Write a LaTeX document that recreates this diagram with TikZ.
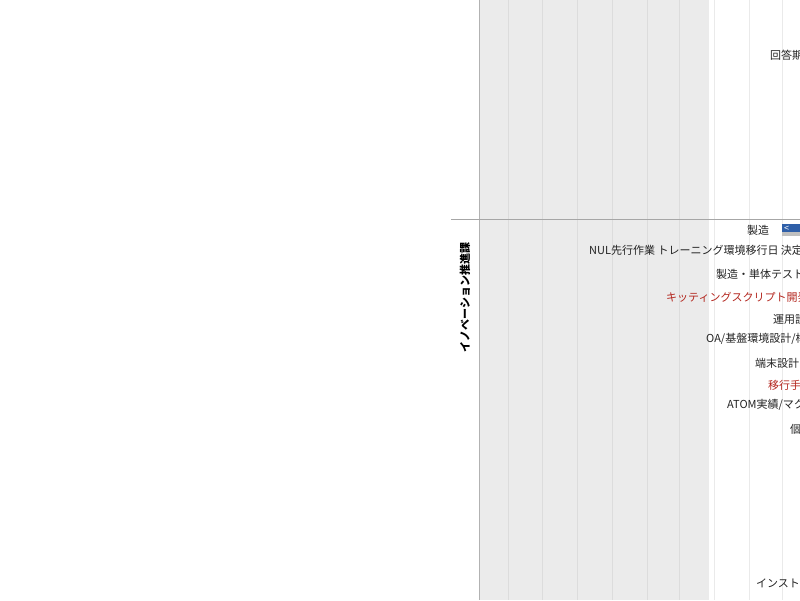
\documentclass[tikz,border=0pt]{standalone}
\usepackage{fontspec}
\setmainfont{Noto Sans CJK JP}
\usetikzlibrary{positioning}
\definecolor{txtgray}{HTML}{222222}
\definecolor{lateRed}{HTML}{B3261E}
\definecolor{paneGray}{HTML}{EBEBEB}
\definecolor{gridGray}{HTML}{DCDCDC}
\definecolor{barBlue}{HTML}{2F5FA8}
\tikzset{
  task/.style={anchor=base west, inner sep=0pt, font=\fontsize{11}{13}\selectfont, text=txtgray},
  late/.style={task, text=lateRed},
  gridline/.style={draw=gridGray, line width=0.8pt}
}
\begin{document}
\begin{tikzpicture}[x=1pt,y=-1pt]
\useasboundingbox (0,0) rectangle (800,600);
\clip (0,0) rectangle (800,600);

% past weeks pane
\fill[paneGray] (479,0) rectangle (709,600);
\foreach \gx in {508,542,577,612,647,679}
  \draw[gridline] (\gx,0) -- (\gx,600);
\foreach \gx in {714,749,782}
  \draw[gridline, draw=gridGray!60] (\gx,0) -- (\gx,600);
\draw[draw=black!30, line width=1pt] (479,0) -- (479,600);

% group separator
\coordinate (sepL) at (451,219);
\coordinate (sepR) at (800,219);
\draw[draw=black!35, line width=0.8pt] (sepL) -- (sepR);

\node[rotate=90, inner sep=0pt, font=\fontsize{11}{12}\bfseries\selectfont] (team) at (465,297.5) {イノベーション推進課};

% tasks
\node[task] (answer) at (770,59) {回答期限};
\node[task] (build) at (747,234) {製造};
\fill[barBlue] (782,224) rectangle (800,232);
\fill[black!25] (782,232) rectangle (800,236);
\node[anchor=base west, inner sep=0pt, text=white, font=\fontsize{9}{9}\selectfont] (buildbar) at (784,231.5) {<};
\node[task] (nul) at (589,254) {NUL先行作業 トレーニング環境移行日 決定};
\node[task] (unit) at (716,278) {製造・単体テスト};
\node[late] (kitting) at (666,301) {キッティングスクリプト開発};
\node[task] (ops) at (773,323) {運用設計};
\node[task] (oa) at (706,342) {OA/基盤環境設計/構築};
\node[task] (device) at (755,367) {端末設計};
\node[late] (migrate) at (768,389) {移行手順};
\node[task] (atom) at (727,408) {ATOM実績/マクロ};
\node[task] (indiv) at (790,433) {個別};
\node[task] (install) at (756,587) {インストール};
\end{tikzpicture}
\end{document}
